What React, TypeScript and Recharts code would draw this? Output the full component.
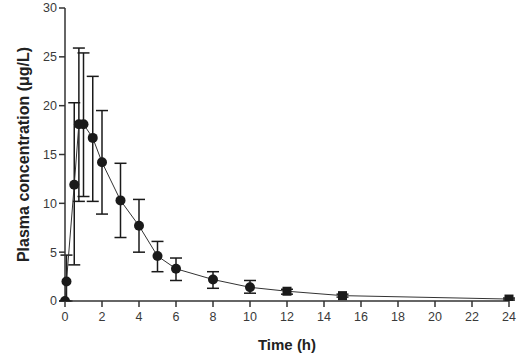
import { LineChart, Line, XAxis, YAxis, ErrorBar, Label } from "recharts";

const times = [0, 0.08, 0.5, 0.75, 1, 1.5, 2, 3, 4, 5, 6, 8, 10, 12, 15, 24];
const means = [0, 2.0, 11.9, 18.1, 18.1, 16.7, 14.2, 10.3, 7.7, 4.6, 3.3, 2.2, 1.4, 1.0, 0.55, 0.2];
const lows = [0, 0, 3.7, 10.2, 10.7, 10.2, 8.9, 6.5, 5.0, 3.0, 2.1, 1.3, 0.8, 0.7, 0.4, 0.1];
const highs = [0, 4.7, 20.3, 25.9, 25.4, 23.0, 19.5, 14.1, 10.4, 6.1, 4.4, 3.0, 2.1, 1.2, 0.7, 0.3];
const xTicks = [0, 2, 4, 6, 8, 10, 12, 14, 16, 18, 20, 22, 24];
const yTicks = [0, 5, 10, 15, 20, 25, 30];

const data = times.map((t, i) => ({
  time: t,
  conc: means[i],
  err: [means[i] - lows[i], highs[i] - means[i]],
}));

const font = "Liberation Sans, Arial, sans-serif";
const tickStyle = { fill: "#3a3a3a", fontSize: 12.5, fontFamily: font };

function Marker(props: any) {
  const { cx, cy, payload } = props;
  if (cx == null || cy == null) return null;
  if (payload.time >= 12) {
    return <rect x={cx - 4.5} y={cy - 4.5} width={9} height={9} fill="#1a1a1a" />;
  }
  return <circle cx={cx} cy={cy} r={5} fill="#1a1a1a" />;
}

export default function App() {
  return (
    <div style={{ position: "absolute", left: 0, top: 0, background: "#fff" }}>
      <LineChart width={524} height={361} data={data} margin={{ top: 8, right: 15, bottom: 30, left: 25 }}>
        <XAxis
          dataKey="time"
          type="number"
          domain={[0, 24]}
          ticks={xTicks}
          tick={{ ...tickStyle, dy: 3 }}
          axisLine={{ stroke: "#333", strokeWidth: 1.5 }}
          tickLine={{ stroke: "#333", strokeWidth: 1.5 }}
          tickSize={6}
          height={30}
        >
          <Label
            value="Time (h)"
            position="bottom"
            offset={8}
            style={{ fill: "#222", fontSize: 15, fontWeight: "bold", fontFamily: font }}
          />
        </XAxis>
        <YAxis
          type="number"
          domain={[0, 30]}
          ticks={yTicks}
          tick={tickStyle}
          axisLine={{ stroke: "#333", strokeWidth: 1.5 }}
          tickLine={{ stroke: "#333", strokeWidth: 1.5 }}
          tickSize={6}
          width={40}
          allowDataOverflow
        >
          <Label
            value="Plasma concentration (μg/L)"
            angle={-90}
            position="left"
            offset={2}
            style={{ textAnchor: "middle", fill: "#222", fontSize: 16, fontWeight: "bold", fontFamily: font }}
          />
        </YAxis>
        <Line
          dataKey="conc"
          type="linear"
          stroke="#333"
          strokeWidth={1}
          dot={<Marker />}
          activeDot={false}
          isAnimationActive={false}
        >
          <ErrorBar dataKey="err" direction="y" width={6} stroke="#1a1a1a" strokeWidth={1.5} />
        </Line>
      </LineChart>
    </div>
  );
}
